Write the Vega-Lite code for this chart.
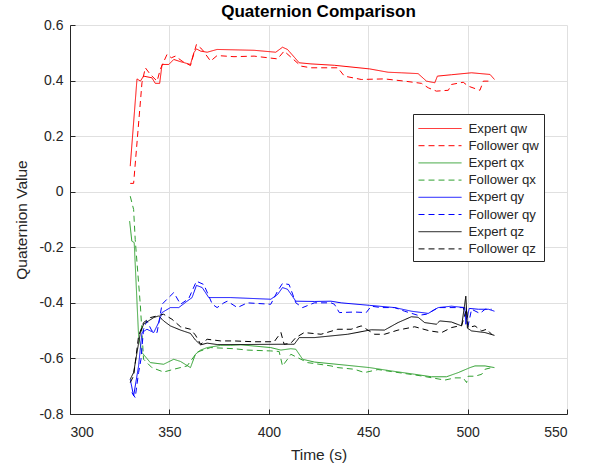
{
"$schema": "https://vega.github.io/schema/vega-lite/v6.json",
"width": 497, "height": 389,
"autosize": "none",
"padding": {"left": 70, "top": 25, "right": 23, "bottom": 56},
"background": "white",
"title": {"text": "Quaternion Comparison", "font": "Liberation Sans", "fontSize": 17, "fontWeight": "bold", "color": "#000000", "offset": -3},
"config": {
  "view": {"stroke": null},
  "axis": {"labelFont": "Liberation Sans", "labelFontSize": 14, "labelColor": "#262626", "titleFont": "Liberation Sans", "titleFontSize": 15.5, "titleFontWeight": "normal", "titleColor": "#262626", "domainColor": "#262626", "tickColor": "#262626", "tickSize": -5, "gridColor": "#e0e0e0", "gridWidth": 1},
  "legend": {"labelFont": "Liberation Sans", "labelFontSize": 13.2, "labelColor": "#262626"}
},
"data": {"values": [
{"s":"Expert qw","t":330.3,"v":0.092},{"s":"Expert qw","t":333.7,"v":0.406},{"s":"Expert qw","t":335.4,"v":0.398},{"s":"Expert qw","t":337,"v":0.416},{"s":"Expert qw","t":341.2,"v":0.41},{"s":"Expert qw","t":342.9,"v":0.39},{"s":"Expert qw","t":345.1,"v":0.39},{"s":"Expert qw","t":346.3,"v":0.458},{"s":"Expert qw","t":349.7,"v":0.458},{"s":"Expert qw","t":352.2,"v":0.476},{"s":"Expert qw","t":355.6,"v":0.468},{"s":"Expert qw","t":360.6,"v":0.458},{"s":"Expert qw","t":362.3,"v":0.5},{"s":"Expert qw","t":363.6,"v":0.514},{"s":"Expert qw","t":365.7,"v":0.506},{"s":"Expert qw","t":369,"v":0.502},{"s":"Expert qw","t":374,"v":0.512},{"s":"Expert qw","t":392.6,"v":0.509},{"s":"Expert qw","t":403.5,"v":0.502},{"s":"Expert qw","t":406.9,"v":0.52},{"s":"Expert qw","t":409.4,"v":0.512},{"s":"Expert qw","t":415.3,"v":0.464},{"s":"Expert qw","t":421.2,"v":0.46},{"s":"Expert qw","t":433,"v":0.455},{"s":"Expert qw","t":450.7,"v":0.442},{"s":"Expert qw","t":460,"v":0.43},{"s":"Expert qw","t":466.7,"v":0.428},{"s":"Expert qw","t":475.1,"v":0.425},{"s":"Expert qw","t":479.3,"v":0.398},{"s":"Expert qw","t":483.5,"v":0.392},{"s":"Expert qw","t":484.8,"v":0.416},{"s":"Expert qw","t":491.9,"v":0.421},{"s":"Expert qw","t":502,"v":0.428},{"s":"Expert qw","t":511.3,"v":0.422},{"s":"Expert qw","t":513.5,"v":0.404},
{"s":"Follower qw","t":330.3,"v":0.03},{"s":"Follower qw","t":332,"v":0.03},{"s":"Follower qw","t":336.2,"v":0.392},{"s":"Follower qw","t":337.9,"v":0.446},{"s":"Follower qw","t":340.4,"v":0.422},{"s":"Follower qw","t":343.8,"v":0.398},{"s":"Follower qw","t":345.5,"v":0.442},{"s":"Follower qw","t":348.8,"v":0.494},{"s":"Follower qw","t":351,"v":0.482},{"s":"Follower qw","t":353,"v":0.488},{"s":"Follower qw","t":356.4,"v":0.47},{"s":"Follower qw","t":360.6,"v":0.454},{"s":"Follower qw","t":363.6,"v":0.53},{"s":"Follower qw","t":366.5,"v":0.512},{"s":"Follower qw","t":370.7,"v":0.47},{"s":"Follower qw","t":374,"v":0.49},{"s":"Follower qw","t":382.5,"v":0.486},{"s":"Follower qw","t":392.6,"v":0.488},{"s":"Follower qw","t":404.4,"v":0.478},{"s":"Follower qw","t":407.7,"v":0.506},{"s":"Follower qw","t":416.2,"v":0.452},{"s":"Follower qw","t":421.2,"v":0.446},{"s":"Follower qw","t":434.7,"v":0.446},{"s":"Follower qw","t":438,"v":0.416},{"s":"Follower qw","t":446.5,"v":0.404},{"s":"Follower qw","t":458.2,"v":0.406},{"s":"Follower qw","t":468.3,"v":0.398},{"s":"Follower qw","t":476.8,"v":0.39},{"s":"Follower qw","t":480.2,"v":0.374},{"s":"Follower qw","t":484.3,"v":0.362},{"s":"Follower qw","t":490.3,"v":0.365},{"s":"Follower qw","t":491.9,"v":0.386},{"s":"Follower qw","t":497.8,"v":0.394},{"s":"Follower qw","t":500.3,"v":0.38},{"s":"Follower qw","t":506.2,"v":0.365},{"s":"Follower qw","t":507.9,"v":0.398},{"s":"Follower qw","t":512.1,"v":0.398},
{"s":"Expert qx","t":330,"v":-0.106},{"s":"Expert qx","t":331.1,"v":-0.178},{"s":"Expert qx","t":332.3,"v":-0.183},{"s":"Expert qx","t":334.5,"v":-0.519},{"s":"Expert qx","t":336.2,"v":-0.579},{"s":"Expert qx","t":340.4,"v":-0.615},{"s":"Expert qx","t":347.1,"v":-0.621},{"s":"Expert qx","t":352.2,"v":-0.603},{"s":"Expert qx","t":355.6,"v":-0.611},{"s":"Expert qx","t":360.6,"v":-0.633},{"s":"Expert qx","t":363.1,"v":-0.585},{"s":"Expert qx","t":365.7,"v":-0.57},{"s":"Expert qx","t":369,"v":-0.561},{"s":"Expert qx","t":375.8,"v":-0.553},{"s":"Expert qx","t":380.8,"v":-0.553},{"s":"Expert qx","t":385.9,"v":-0.551},{"s":"Expert qx","t":401,"v":-0.561},{"s":"Expert qx","t":406.1,"v":-0.57},{"s":"Expert qx","t":411.1,"v":-0.565},{"s":"Expert qx","t":413.6,"v":-0.567},{"s":"Expert qx","t":417,"v":-0.603},{"s":"Expert qx","t":422.9,"v":-0.613},{"s":"Expert qx","t":431.3,"v":-0.619},{"s":"Expert qx","t":439.7,"v":-0.625},{"s":"Expert qx","t":450.7,"v":-0.633},{"s":"Expert qx","t":461.6,"v":-0.645},{"s":"Expert qx","t":473.4,"v":-0.657},{"s":"Expert qx","t":481.8,"v":-0.666},{"s":"Expert qx","t":489.4,"v":-0.666},{"s":"Expert qx","t":495.3,"v":-0.651},{"s":"Expert qx","t":501.2,"v":-0.633},{"s":"Expert qx","t":503.7,"v":-0.627},{"s":"Expert qx","t":508.8,"v":-0.627},{"s":"Expert qx","t":513.5,"v":-0.633},
{"s":"Follower qx","t":330.3,"v":-0.016},{"s":"Follower qx","t":332,"v":-0.064},{"s":"Follower qx","t":332.8,"v":-0.172},{"s":"Follower qx","t":335.4,"v":-0.41},{"s":"Follower qx","t":337,"v":-0.603},{"s":"Follower qx","t":341.2,"v":-0.633},{"s":"Follower qx","t":347.1,"v":-0.649},{"s":"Follower qx","t":352.2,"v":-0.639},{"s":"Follower qx","t":358.9,"v":-0.627},{"s":"Follower qx","t":364,"v":-0.577},{"s":"Follower qx","t":370.7,"v":-0.561},{"s":"Follower qx","t":382.5,"v":-0.565},{"s":"Follower qx","t":389.2,"v":-0.57},{"s":"Follower qx","t":401,"v":-0.573},{"s":"Follower qx","t":405.2,"v":-0.575},{"s":"Follower qx","t":406.9,"v":-0.627},{"s":"Follower qx","t":409.4,"v":-0.603},{"s":"Follower qx","t":411.1,"v":-0.585},{"s":"Follower qx","t":419.5,"v":-0.615},{"s":"Follower qx","t":431.3,"v":-0.627},{"s":"Follower qx","t":434.7,"v":-0.633},{"s":"Follower qx","t":443.1,"v":-0.639},{"s":"Follower qx","t":448.1,"v":-0.651},{"s":"Follower qx","t":454.9,"v":-0.64},{"s":"Follower qx","t":463.3,"v":-0.649},{"s":"Follower qx","t":476.8,"v":-0.663},{"s":"Follower qx","t":488.5,"v":-0.678},{"s":"Follower qx","t":493.6,"v":-0.67},{"s":"Follower qx","t":497.8,"v":-0.67},{"s":"Follower qx","t":499.5,"v":-0.687},{"s":"Follower qx","t":500.3,"v":-0.664},{"s":"Follower qx","t":503.7,"v":-0.664},{"s":"Follower qx","t":507.1,"v":-0.657},{"s":"Follower qx","t":508.8,"v":-0.639},{"s":"Follower qx","t":512.1,"v":-0.633},
{"s":"Expert qy","t":330.3,"v":-0.675},{"s":"Expert qy","t":332,"v":-0.735},{"s":"Expert qy","t":334.5,"v":-0.627},{"s":"Expert qy","t":336.2,"v":-0.507},{"s":"Expert qy","t":338.7,"v":-0.495},{"s":"Expert qy","t":342.1,"v":-0.507},{"s":"Expert qy","t":344.6,"v":-0.471},{"s":"Expert qy","t":346.3,"v":-0.435},{"s":"Expert qy","t":350.5,"v":-0.417},{"s":"Expert qy","t":354.7,"v":-0.417},{"s":"Expert qy","t":358.9,"v":-0.394},{"s":"Expert qy","t":361.4,"v":-0.381},{"s":"Expert qy","t":363.6,"v":-0.337},{"s":"Expert qy","t":366.5,"v":-0.345},{"s":"Expert qy","t":369.8,"v":-0.381},{"s":"Expert qy","t":380.8,"v":-0.381},{"s":"Expert qy","t":401,"v":-0.387},{"s":"Expert qy","t":404.4,"v":-0.37},{"s":"Expert qy","t":406.9,"v":-0.345},{"s":"Expert qy","t":409.4,"v":-0.351},{"s":"Expert qy","t":413.6,"v":-0.394},{"s":"Expert qy","t":422.9,"v":-0.395},{"s":"Expert qy","t":431.3,"v":-0.394},{"s":"Expert qy","t":436.4,"v":-0.4},{"s":"Expert qy","t":450.7,"v":-0.409},{"s":"Expert qy","t":463.3,"v":-0.417},{"s":"Expert qy","t":471.7,"v":-0.43},{"s":"Expert qy","t":480.2,"v":-0.438},{"s":"Expert qy","t":485.2,"v":-0.417},{"s":"Expert qy","t":491.9,"v":-0.412},{"s":"Expert qy","t":498.6,"v":-0.417},{"s":"Expert qy","t":499.1,"v":-0.477},{"s":"Expert qy","t":500.8,"v":-0.42},{"s":"Expert qy","t":505.4,"v":-0.423},{"s":"Expert qy","t":510.5,"v":-0.423},{"s":"Expert qy","t":513.5,"v":-0.43},
{"s":"Follower qy","t":331.1,"v":-0.723},{"s":"Follower qy","t":332.8,"v":-0.741},{"s":"Follower qy","t":334.5,"v":-0.651},{"s":"Follower qy","t":335.7,"v":-0.603},{"s":"Follower qy","t":337,"v":-0.495},{"s":"Follower qy","t":338.7,"v":-0.465},{"s":"Follower qy","t":341.2,"v":-0.501},{"s":"Follower qy","t":343.8,"v":-0.507},{"s":"Follower qy","t":346.3,"v":-0.405},{"s":"Follower qy","t":348.8,"v":-0.387},{"s":"Follower qy","t":352.2,"v":-0.363},{"s":"Follower qy","t":355.6,"v":-0.405},{"s":"Follower qy","t":359.7,"v":-0.385},{"s":"Follower qy","t":363.6,"v":-0.322},{"s":"Follower qy","t":367.3,"v":-0.334},{"s":"Follower qy","t":371.6,"v":-0.405},{"s":"Follower qy","t":374,"v":-0.417},{"s":"Follower qy","t":377.4,"v":-0.4},{"s":"Follower qy","t":379.1,"v":-0.394},{"s":"Follower qy","t":384.2,"v":-0.417},{"s":"Follower qy","t":389.2,"v":-0.4},{"s":"Follower qy","t":401,"v":-0.405},{"s":"Follower qy","t":404.4,"v":-0.358},{"s":"Follower qy","t":406.9,"v":-0.33},{"s":"Follower qy","t":410.2,"v":-0.334},{"s":"Follower qy","t":413.6,"v":-0.4},{"s":"Follower qy","t":417,"v":-0.417},{"s":"Follower qy","t":422.9,"v":-0.4},{"s":"Follower qy","t":431.3,"v":-0.4},{"s":"Follower qy","t":433,"v":-0.405},{"s":"Follower qy","t":435.5,"v":-0.435},{"s":"Follower qy","t":443.1,"v":-0.433},{"s":"Follower qy","t":449,"v":-0.435},{"s":"Follower qy","t":451.5,"v":-0.412},{"s":"Follower qy","t":456.6,"v":-0.417},{"s":"Follower qy","t":463.3,"v":-0.417},{"s":"Follower qy","t":468.3,"v":-0.43},{"s":"Follower qy","t":475.1,"v":-0.445},{"s":"Follower qy","t":479.3,"v":-0.441},{"s":"Follower qy","t":485.2,"v":-0.417},{"s":"Follower qy","t":497.8,"v":-0.417},{"s":"Follower qy","t":499.5,"v":-0.459},{"s":"Follower qy","t":500.3,"v":-0.481},{"s":"Follower qy","t":502,"v":-0.423},{"s":"Follower qy","t":506.2,"v":-0.438},{"s":"Follower qy","t":508.8,"v":-0.423},{"s":"Follower qy","t":512.1,"v":-0.423},
{"s":"Expert qz","t":330.3,"v":-0.675},{"s":"Expert qz","t":332,"v":-0.651},{"s":"Expert qz","t":333.7,"v":-0.579},{"s":"Expert qz","t":335.4,"v":-0.507},{"s":"Expert qz","t":337,"v":-0.477},{"s":"Expert qz","t":339.5,"v":-0.465},{"s":"Expert qz","t":342.1,"v":-0.453},{"s":"Expert qz","t":344.6,"v":-0.447},{"s":"Expert qz","t":347.1,"v":-0.465},{"s":"Expert qz","t":350.5,"v":-0.483},{"s":"Expert qz","t":355.6,"v":-0.498},{"s":"Expert qz","t":360.6,"v":-0.51},{"s":"Expert qz","t":363.1,"v":-0.534},{"s":"Expert qz","t":365.7,"v":-0.551},{"s":"Expert qz","t":369,"v":-0.545},{"s":"Expert qz","t":374,"v":-0.55},{"s":"Expert qz","t":385.9,"v":-0.55},{"s":"Expert qz","t":406.1,"v":-0.549},{"s":"Expert qz","t":412.8,"v":-0.549},{"s":"Expert qz","t":415.3,"v":-0.525},{"s":"Expert qz","t":422.9,"v":-0.525},{"s":"Expert qz","t":439.7,"v":-0.513},{"s":"Expert qz","t":451.5,"v":-0.497},{"s":"Expert qz","t":458.2,"v":-0.498},{"s":"Expert qz","t":465,"v":-0.471},{"s":"Expert qz","t":471.7,"v":-0.45},{"s":"Expert qz","t":475.1,"v":-0.452},{"s":"Expert qz","t":478.4,"v":-0.471},{"s":"Expert qz","t":484.3,"v":-0.477},{"s":"Expert qz","t":486,"v":-0.465},{"s":"Expert qz","t":491.9,"v":-0.469},{"s":"Expert qz","t":497,"v":-0.483},{"s":"Expert qz","t":499.1,"v":-0.376},{"s":"Expert qz","t":499.9,"v":-0.491},{"s":"Expert qz","t":502,"v":-0.501},{"s":"Expert qz","t":508.8,"v":-0.507},{"s":"Expert qz","t":513.5,"v":-0.517},
{"s":"Follower qz","t":330.3,"v":-0.687},{"s":"Follower qz","t":332,"v":-0.663},{"s":"Follower qz","t":334.5,"v":-0.519},{"s":"Follower qz","t":337,"v":-0.471},{"s":"Follower qz","t":340.4,"v":-0.453},{"s":"Follower qz","t":343.8,"v":-0.447},{"s":"Follower qz","t":347.1,"v":-0.441},{"s":"Follower qz","t":351.3,"v":-0.459},{"s":"Follower qz","t":355.6,"v":-0.486},{"s":"Follower qz","t":360.6,"v":-0.495},{"s":"Follower qz","t":363.1,"v":-0.516},{"s":"Follower qz","t":365.7,"v":-0.549},{"s":"Follower qz","t":369,"v":-0.531},{"s":"Follower qz","t":375.8,"v":-0.537},{"s":"Follower qz","t":382.5,"v":-0.537},{"s":"Follower qz","t":392.6,"v":-0.54},{"s":"Follower qz","t":402.7,"v":-0.54},{"s":"Follower qz","t":406.1,"v":-0.507},{"s":"Follower qz","t":407.7,"v":-0.549},{"s":"Follower qz","t":411.1,"v":-0.545},{"s":"Follower qz","t":413.6,"v":-0.525},{"s":"Follower qz","t":417.8,"v":-0.507},{"s":"Follower qz","t":426.3,"v":-0.513},{"s":"Follower qz","t":434.7,"v":-0.495},{"s":"Follower qz","t":441.4,"v":-0.495},{"s":"Follower qz","t":446.5,"v":-0.483},{"s":"Follower qz","t":453.2,"v":-0.513},{"s":"Follower qz","t":458.2,"v":-0.513},{"s":"Follower qz","t":465,"v":-0.498},{"s":"Follower qz","t":473.4,"v":-0.486},{"s":"Follower qz","t":481,"v":-0.501},{"s":"Follower qz","t":486.9,"v":-0.507},{"s":"Follower qz","t":491.9,"v":-0.489},{"s":"Follower qz","t":497,"v":-0.481},{"s":"Follower qz","t":499.5,"v":-0.423},{"s":"Follower qz","t":500.3,"v":-0.489},{"s":"Follower qz","t":503.7,"v":-0.483},{"s":"Follower qz","t":507.1,"v":-0.501},{"s":"Follower qz","t":509.6,"v":-0.495},{"s":"Follower qz","t":512.1,"v":-0.513}
]},
"mark": {"type": "line", "strokeWidth": 1},
"encoding": {
  "x": {"field": "t", "type": "quantitative", "scale": {"domain": [300, 550], "nice": false, "zero": false},
        "axis": {"values": [300, 350, 400, 450, 500, 550], "title": "Time (s)", "labelPadding": 16, "titlePadding": 8, "labelExpr": "datum.value + ''"}},
  "y": {"field": "v", "type": "quantitative", "scale": {"domain": [-0.8, 0.6], "nice": false, "zero": false},
        "axis": {"values": [-0.8, -0.6, -0.4, -0.2, 0, 0.2, 0.4, 0.6], "title": "Quaternion Value", "labelPadding": 12, "titlePadding": 9, "labelExpr": "datum.value + ''"}},
  "color": {"field": "s", "type": "nominal",
    "scale": {"domain": ["Expert qw","Follower qw","Expert qx","Follower qx","Expert qy","Follower qy","Expert qz","Follower qz"],
              "range": ["#ff0000","#ff0000","#30a030","#30a030","#0000ff","#0000ff","#000000","#000000"]},
    "legend": {"title": null, "orient": "none", "legendX": 343, "legendY": 89, "symbolType": "M-1,0H3.78", "symbolSize": 324, "symbolStrokeWidth": 1, "labelOffset": 31.5, "rowPadding": 1.2, "padding": 5, "strokeColor": "#262626", "fillColor": "white",
      "encode": {"symbols": {"update": {"stroke": {"scale": "color", "field": "value"}, "strokeDash": {"scale": "strokeDash", "field": "value"}, "fill": {"value": "transparent"}}}}}},
  "strokeDash": {"field": "s", "type": "nominal",
    "scale": {"domain": ["Expert qw","Follower qw","Expert qx","Follower qx","Expert qy","Follower qy","Expert qz","Follower qz"],
              "range": [[1,0],[6,4],[1,0],[6,4],[1,0],[6,4],[1,0],[6,4]]},
    "legend": {"title": null, "orient": "none", "legendX": 343, "legendY": 89, "symbolType": "M-1,0H3.78", "symbolSize": 324, "symbolStrokeWidth": 1, "labelOffset": 31.5, "rowPadding": 1.2, "padding": 5, "strokeColor": "#262626", "fillColor": "white",
      "encode": {"symbols": {"update": {"stroke": {"scale": "color", "field": "value"}, "strokeDash": {"scale": "strokeDash", "field": "value"}, "fill": {"value": "transparent"}}}}}}
}
}
